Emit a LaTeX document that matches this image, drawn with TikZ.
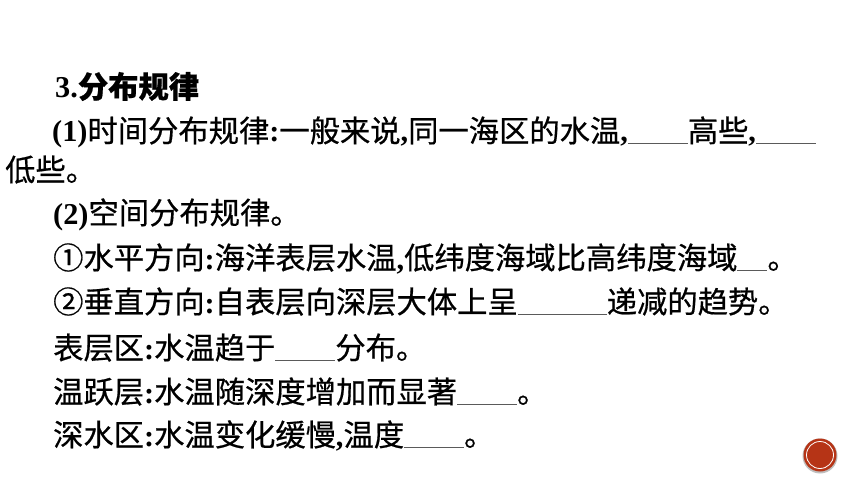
\documentclass[tikz,border=0pt]{standalone}
\usepackage{fontspec}
\usepackage{tikz}
\setmainfont{Liberation Serif}
\newfontfamily\cjk[FakeBold=0.6]{Noto Sans CJK SC}
\definecolor{blankgray}{RGB}{90,90,90}
\definecolor{marker}{RGB}{182,52,22}
\newcommand{\lat}[1]{{\rmfamily\bfseries #1}}
\newcommand{\blank}[1]{{\color{blankgray}\rule[-2pt]{#1pt}{0.9pt}}}

\begin{document}
\begin{tikzpicture}[x=1pt,y=-1pt,
	txt/.style={anchor=base west,inner sep=0pt,font=\fontsize{30.3}{36}\selectfont\cjk}]
	\useasboundingbox (0,0) rectangle (860,484);
	% heading
	\node[txt] (head) at (55,98) {\lat{3.}\bfseries 分布规律};
	% (1) time
	\node[txt] (time) at (52,142) {\lat{(1)}时间分布规律\lat{:}一般来说\lat{,}同一海区的水温\lat{,}\blank{60}高些\lat{,}\blank{60}};
	\node[txt] (timeb) at (5,181) {低些。};
	% (2) space
	\node[txt] (space) at (53,224) {\lat{(2)}空间分布规律。};
	\node[txt] (horiz) at (53,269) {①水平方向\lat{:}海洋表层水温\lat{,}低纬度海域比高纬度海域\blank{30}。};
	\node[txt] (vert) at (53,313) {②垂直方向\lat{:}自表层向深层大体上呈\blank{89}递减的趋势。};
	\node[txt] (surf) at (53,359) {表层区\lat{:}水温趋于\blank{60}分布。};
	\node[txt] (thermo) at (53,403) {温跃层\lat{:}水温随深度增加而显著\blank{60}。};
	\node[txt] (deep) at (53,446) {深水区\lat{:}水温变化缓慢\lat{,}温度\blank{60}。};
	% page marker
	\fill[gray!50] (820,456) circle (17.5);
	\fill[marker] (820,455) circle (16.5);
	\draw[white,line width=0.8pt] (820,455) circle (13.5);
\end{tikzpicture}
\end{document}
